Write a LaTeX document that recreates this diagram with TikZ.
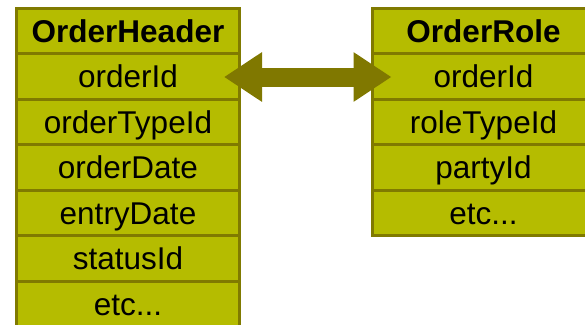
\documentclass[tikz,border=0pt]{standalone}
\usepackage{fontspec}
\setmainfont{Liberation Sans}
\usetikzlibrary{arrows.meta}
\definecolor{cellfill}{RGB}{181,188,0}
\definecolor{cellline}{RGB}{128,122,0}
\definecolor{arrowcol}{RGB}{128,120,0}
\begin{document}
\begin{tikzpicture}[x=1pt,y=-1pt,
  cell/.style={rectangle,draw=cellline,fill=cellfill,line width=3pt,
    minimum width=223pt,minimum height=45.5pt,inner sep=0pt,
    text height=22.5pt,text depth=0pt,
    font=\fontsize{31.5}{36}\selectfont,text=black},
  headcell/.style={cell,font=\fontsize{31.5}{36}\selectfont\bfseries},
  bigarrow/.style={arrowcol,line width=19pt,
    {Triangle[width=47pt,length=38pt]}-{Triangle[width=47pt,length=38pt]}}]
\useasboundingbox (0,0) rectangle (585,324);
\clip (0,0) rectangle (585,324);
% left table
\node[headcell] (lh) at (128,30.75) {OrderHeader};
\node[cell] (l1) at (128,76.25) {orderId};
\node[cell] (l2) at (128,121.75) {orderTypeId};
\node[cell] (l3) at (128,167.25) {orderDate};
\node[cell] (l4) at (128,212.75) {entryDate};
\node[cell] (l5) at (128,258.25) {statusId};
\node[cell] (l6) at (128,303.75) {etc...};
% right table
\node[headcell] (rh) at (483.5,30.75) {OrderRole};
\node[cell] (r1) at (483.5,76.25) {orderId};
\node[cell] (r2) at (483.5,121.75) {roleTypeId};
\node[cell] (r3) at (483.5,167.25) {partyId};
\node[cell] (r4) at (483.5,212.75) {etc...};
% arrow
\draw[bigarrow] ([xshift=-17pt,yshift=-0.75pt]l1.east) -- ([xshift=21pt,yshift=-0.75pt]r1.west);
\end{tikzpicture}
\end{document}
